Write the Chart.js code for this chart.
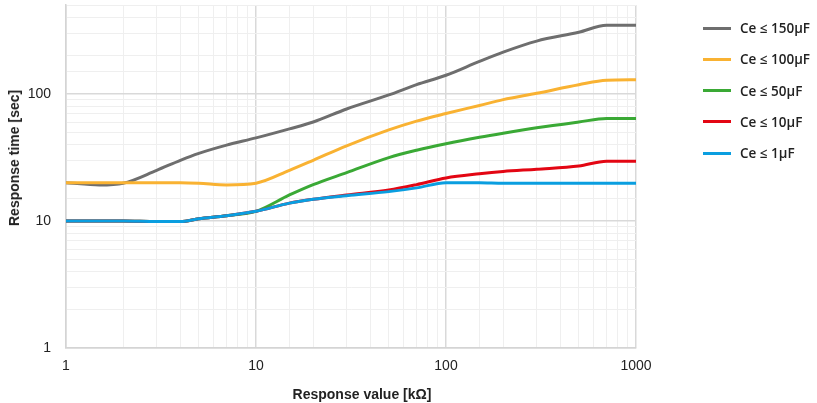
<!DOCTYPE html>
<html>
<head>
<meta charset="utf-8">
<script src="https://cdn.jsdelivr.net/npm/chart.js@4.4.1/dist/chart.umd.min.js"></script>
<style>
  html, body { margin: 0; padding: 0; background: #fff; }
  #wrap { position: relative; width: 817px; height: 403px; }
  .axis-title {
    position: absolute;
    font: bold 14px "Liberation Sans", Arial, sans-serif;
    color: #222;
    white-space: nowrap;
  }
  #yTitle { left: 14px; top: 158px; transform: translate(-50%, -50%) rotate(-90deg); }
  #xTitle { left: 362px; top: 394px; transform: translate(-50%, -50%); }
  #legend { position: absolute; left: 703px; top: 17px; }
  .item { display: flex; align-items: center; height: 22px; margin-bottom: 9.3px; }
  .swatch { width: 28px; height: 3px; margin-right: 9px; }
  .item span { font: 600 13.5px "Open Sans", sans-serif; color: #222; }
</style>
</head>
<body>
<div id="wrap">
  <canvas id="chart" width="817" height="403"></canvas>
  <div class="axis-title" id="yTitle">Response time [sec]</div>
  <div class="axis-title" id="xTitle">Response value [kΩ]</div>
  <div id="legend"></div>
</div>
<script>
// response value in kOhm
const resistance = [1, 1.5, 2, 3, 4, 5, 7, 10, 15, 20, 30, 50, 70, 100, 150, 200, 300, 500, 700, 1000];

// response time in sec for each capacitance
const ce150 = [20, 19.2, 19.8, 25, 30, 34, 39.5, 45, 53, 60, 76, 98, 118, 140, 180, 213, 260, 305, 346, 346];
const ce100 = [20, 20, 20, 20, 20, 19.8, 19.2, 19.8, 25, 30, 39, 52, 61, 70, 81, 90, 101, 118, 128, 129];
const ce50  = [10, 10, 10, 9.9, 9.9, 10.4, 11, 11.9, 16, 19.3, 24, 31.5, 36, 40.5, 45.5, 49, 54, 60, 64, 64];
const ce10  = [10, 10, 10, 9.9, 9.9, 10.4, 11, 11.9, 13.8, 14.8, 16, 17.5, 19.3, 21.8, 23.5, 24.5, 25.5, 27, 29.5, 29.5];
const ce1   = [10, 10, 10, 9.9, 9.9, 10.4, 11, 11.9, 13.8, 14.8, 15.8, 17, 18.2, 20, 20, 19.8, 19.8, 19.8, 19.8, 19.8];

const labels = ['Ce ≤ 150µF', 'Ce ≤ 100µF', 'Ce ≤ 50µF', 'Ce ≤ 10µF', 'Ce ≤ 1µF'];
const colors = ['#6e6e6e', '#f9b232', '#3aa935', '#e30613', '#0a9ee0'];
const series = [ce150, ce100, ce50, ce10, ce1];

const isDecade = v => Math.abs(Math.log10(v) - Math.round(Math.log10(v))) < 1e-9;

// legend (html)
const legendEl = document.getElementById('legend');
labels.forEach((l, i) => {
  const row = document.createElement('div');
  row.className = 'item';
  row.innerHTML = '<div class="swatch" style="background:' + colors[i] + '"></div><span>' + l + '</span>';
  legendEl.appendChild(row);
});

// blue drawn on top, gray at the back
const datasets = series.map((s, i) => ({
  label: labels[i],
  data: s.map((y, j) => ({ x: resistance[j], y: y })),
  borderColor: colors[i],
  backgroundColor: colors[i],
  borderWidth: 3,
  pointRadius: 0,
  cubicInterpolationMode: 'monotone',
  order: series.length - i
}));

const gridColor = ctx => (ctx.tick && isDecade(ctx.tick.value)) ? '#d9d9d9' : '#efefef';
const gridWidth = ctx => (ctx.tick && isDecade(ctx.tick.value)) ? 1.5 : 1;
const tickFont = { family: '"Liberation Sans", Arial, sans-serif', size: 14 };

new Chart(document.getElementById('chart'), {
  type: 'line',
  data: { datasets: datasets },
  options: {
    responsive: false,
    animation: false,
    layout: { padding: { top: 5, right: 181, left: 0, bottom: 0 } },
    plugins: { legend: { display: false }, tooltip: { enabled: false } },
    scales: {
      x: {
        type: 'logarithmic',
        min: 1,
        max: 1000,
        afterFit: s => { s.height = 55; s.paddingLeft = 0; s.paddingRight = 0; },
        grid: { color: gridColor, lineWidth: gridWidth, drawTicks: false },
        border: { color: '#d4d4d4', width: 1.5 },
        ticks: {
          autoSkip: false,
          maxRotation: 0,
          padding: 10,
          color: '#222',
          font: tickFont,
          callback: v => isDecade(v) ? String(v) : ''
        }
      },
      y: {
        type: 'logarithmic',
        min: 1,
        max: 500,
        afterFit: s => { s.width = 66; s.paddingTop = 0; s.paddingBottom = 0; },
        grid: { color: gridColor, lineWidth: gridWidth, drawTicks: false },
        border: { color: '#d4d4d4', width: 1.5 },
        ticks: {
          autoSkip: false,
          padding: 15,
          color: '#222',
          font: tickFont,
          callback: v => isDecade(v) ? String(v) : ''
        }
      }
    }
  }
});
</script>
</body>
</html>
